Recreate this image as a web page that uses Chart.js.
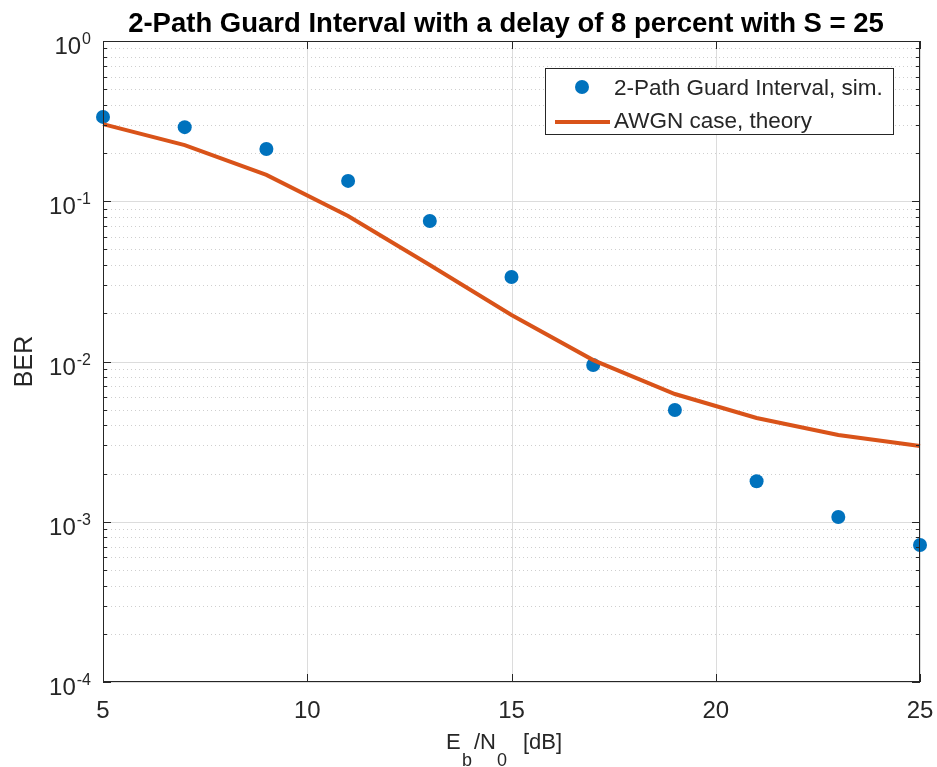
<!DOCTYPE html>
<html lang="en">
<head>
<meta charset="UTF-8">
<title>2-Path Guard Interval BER</title>
<script src="https://cdn.jsdelivr.net/npm/chart.js@4.4.1/dist/chart.umd.min.js"></script>
<style>
  html, body { margin: 0; padding: 0; background: #fff; }
  canvas { display: block; }
</style>
</head>
<body>
<canvas id="berChart" width="937" height="767"></canvas>
<script>
// Eb/N0 points (dB) and the two BER curves
const ebn0 = [5, 7, 9, 11, 13, 15, 17, 19, 21, 23, 25];
const berSim = [0.336, 0.29, 0.212, 0.134, 0.0753, 0.0337, 0.0095, 0.00498, 0.00179, 0.00107, 0.000716];
const berTheory = [0.303, 0.224, 0.146, 0.081, 0.040, 0.0195, 0.0102, 0.00627, 0.00444, 0.00348, 0.00297];
const xTicks = [5, 10, 15, 20, 25];
const yDecades = [-4, -3, -2, -1, 0];
const simLabel = '2-Path Guard Interval, sim.';
const theoryLabel = 'AWGN case, theory';
const titleText = '2-Path Guard Interval with a delay of 8 percent with S = 25';

const FONT = '"Liberation Sans", Arial, sans-serif';
const BLUE = '#0072BD';
const ORANGE = '#D95319';
const AXIS = '#262626';

// matlab-ish axes: grid, inward ticks, box, 10^n labels, legend
const matlabAxes = {
  id: 'matlabAxes',
  beforeDatasetsDraw(chart) {
    const { ctx, chartArea: a, scales: { x, y } } = chart;
    ctx.save();
    ctx.lineWidth = 1;
    // minor dotted lines between decades
    ctx.strokeStyle = '#cfcfcf';
    ctx.setLineDash([1, 3]);
    yDecades.slice(0, -1).forEach(d => {
      for (let m = 2; m <= 9; m++) {
        const py = Math.round(y.getPixelForValue(m * Math.pow(10, d))) + 0.5;
        ctx.beginPath(); ctx.moveTo(a.left, py); ctx.lineTo(a.right, py); ctx.stroke();
      }
    });
    // major solid lines
    ctx.setLineDash([]);
    ctx.strokeStyle = '#dcdcdc';
    yDecades.forEach(d => {
      const py = Math.round(y.getPixelForValue(Math.pow(10, d))) + 0.5;
      ctx.beginPath(); ctx.moveTo(a.left, py); ctx.lineTo(a.right, py); ctx.stroke();
    });
    xTicks.forEach(v => {
      const px = Math.round(x.getPixelForValue(v)) + 0.5;
      ctx.beginPath(); ctx.moveTo(px, a.top); ctx.lineTo(px, a.bottom); ctx.stroke();
    });
    ctx.restore();
  },
  afterDatasetsDraw(chart) {
    const { ctx, chartArea: a, scales: { x, y } } = chart;
    ctx.save();
    ctx.strokeStyle = AXIS;
    ctx.lineWidth = 1;
    // box
    ctx.strokeRect(a.left + 0.5, a.top + 0.5, a.right - a.left - 1, a.bottom - a.top - 1);
    // x ticks on bottom and top
    xTicks.forEach(v => {
      const px = Math.round(x.getPixelForValue(v)) + 0.5;
      ctx.beginPath();
      ctx.moveTo(px, a.bottom); ctx.lineTo(px, a.bottom - 8);
      ctx.moveTo(px, a.top); ctx.lineTo(px, a.top + 8);
      ctx.stroke();
    });
    // y ticks, major and minor, both sides
    yDecades.forEach(d => {
      for (let m = 1; m <= 9; m++) {
        if (d === 0 && m > 1) break;
        const py = Math.round(y.getPixelForValue(m * Math.pow(10, d))) + 0.5;
        const len = m === 1 ? 8 : 4;
        ctx.beginPath();
        ctx.moveTo(a.left, py); ctx.lineTo(a.left + len, py);
        ctx.moveTo(a.right, py); ctx.lineTo(a.right - len, py);
        ctx.stroke();
      }
    });
    ctx.fillStyle = AXIS;
    // x tick labels
    ctx.font = '24px ' + FONT;
    ctx.textAlign = 'center';
    ctx.textBaseline = 'alphabetic';
    xTicks.forEach(v => ctx.fillText(String(v), x.getPixelForValue(v), a.bottom + 36));
    // y tick labels as 10^n
    yDecades.forEach(d => {
      const py = y.getPixelForValue(Math.pow(10, d));
      const sup = String(d);
      ctx.font = '16px ' + FONT;
      ctx.textAlign = 'left';
      const supW = ctx.measureText(sup).width;
      const supX = a.left - 12 - supW;
      ctx.fillText(sup, supX, py + 3);
      ctx.font = '24px ' + FONT;
      ctx.textAlign = 'right';
      ctx.fillText('10', supX - 1, py + 13);
    });
    // x axis title: E_b/N_0 [dB], pieces placed relative to centre
    const cx = 509;
    const by = 749;
    ctx.textAlign = 'left';
    const parts = [['E', -63, 0, 22], ['b', -47, 17, 18], ['/N', -35, 0, 22], ['0', -12, 17, 18], ['[dB]', 14, 0, 22]];
    parts.forEach(p => {
      ctx.font = p[3] + 'px ' + FONT;
      ctx.fillText(p[0], cx + p[1], by + p[2]);
    });
    // y axis title
    ctx.save();
    ctx.translate(32, (a.top + a.bottom) / 2);
    ctx.rotate(-Math.PI / 2);
    ctx.textAlign = 'center';
    ctx.font = '25px ' + FONT;
    ctx.fillText('BER', 0, 0);
    ctx.restore();
    // title
    ctx.fillStyle = '#000';
    ctx.font = 'bold 27.5px ' + FONT;
    ctx.textAlign = 'center';
    ctx.fillText(titleText, 506, 32);
    // legend
    const lx = 545, ly = 68, lw = 348, lh = 66;
    ctx.fillStyle = '#fff';
    ctx.fillRect(lx, ly, lw, lh);
    ctx.strokeStyle = AXIS;
    ctx.strokeRect(lx + 0.5, ly + 0.5, lw, lh);
    ctx.fillStyle = BLUE;
    ctx.beginPath(); ctx.arc(582, 87, 7, 0, Math.PI * 2); ctx.fill();
    ctx.strokeStyle = ORANGE;
    ctx.lineWidth = 4;
    ctx.beginPath(); ctx.moveTo(555, 122); ctx.lineTo(610, 122); ctx.stroke();
    ctx.fillStyle = AXIS;
    ctx.font = '22.5px ' + FONT;
    ctx.textAlign = 'left';
    ctx.textBaseline = 'middle';
    ctx.fillText(simLabel, 614, 89);
    ctx.fillText(theoryLabel, 614, 122);
    ctx.restore();
  }
};

const ctx = document.getElementById('berChart').getContext('2d');
new Chart(ctx, {
  type: 'scatter',
  data: {
    datasets: [
      {
        label: theoryLabel,
        data: ebn0.map((v, i) => ({ x: v, y: berTheory[i] })),
        showLine: true,
        borderColor: ORANGE,
        borderWidth: 4,
        pointRadius: 0,
        fill: false,
        clip: false,
        order: 0
      },
      {
        label: simLabel,
        data: ebn0.map((v, i) => ({ x: v, y: berSim[i] })),
        showLine: false,
        backgroundColor: BLUE,
        borderColor: BLUE,
        pointRadius: 7,
        pointBorderWidth: 0,
        clip: false,
        order: 1
      }
    ]
  },
  options: {
    responsive: false,
    animation: false,
    events: [],
    layout: { padding: { top: 41, right: 17, left: 0, bottom: 0 } },
    plugins: { legend: { display: false }, title: { display: false }, tooltip: { enabled: false } },
    scales: {
      x: {
        type: 'linear', min: 5, max: 25,
        grid: { display: false }, border: { display: false },
        ticks: { display: false },
        afterFit(s) { s.height = 85; }
      },
      y: {
        type: 'logarithmic', min: 1e-4, max: 1,
        grid: { display: false }, border: { display: false },
        ticks: { display: false },
        afterFit(s) { s.width = 103; }
      }
    }
  },
  plugins: [matlabAxes]
});
</script>
</body>
</html>
